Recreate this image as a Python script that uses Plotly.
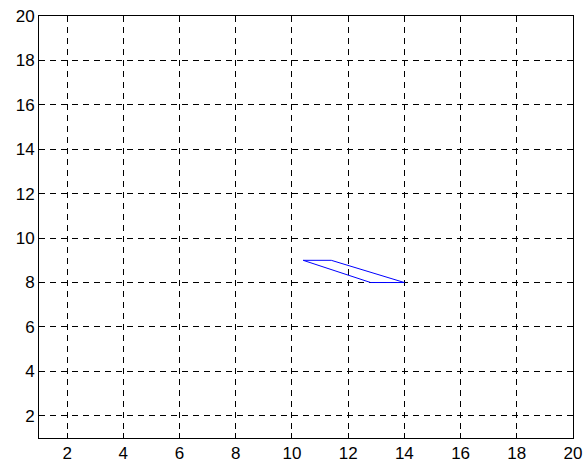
import plotly.graph_objects as go

shape_x = [10.4, 11.4, 14.0, 12.8, 10.4]
shape_y = [9.0, 9.0, 8.0, 8.0, 9.0]
x_ticks = [2, 4, 6, 8, 10, 12, 14, 16, 18, 20]
y_ticks = [2, 4, 6, 8, 10, 12, 14, 16, 18, 20]

fig = go.Figure()
fig.add_trace(go.Scatter(x=shape_x, y=shape_y, mode="lines",
                         line=dict(color="#0000ff", width=1), showlegend=False))

axis_common = dict(showline=True, linecolor="black", linewidth=1, mirror="ticks",
                   ticks="inside", ticklen=5, tickcolor="black",
                   showgrid=True, gridcolor="black", griddash="6px,5px", gridwidth=1,
                   zeroline=False, automargin=False, ticklabeloverflow="allow",
                   tickfont=dict(family="Liberation Sans", size=17, color="black"))

fig.update_xaxes(range=[1, 20], tickvals=x_ticks, ticktext=[str(v) for v in x_ticks], **axis_common)
fig.update_yaxes(range=[1, 20], tickvals=y_ticks, ticktext=[str(v) for v in y_ticks], **axis_common)

fig.update_layout(width=583, height=463, paper_bgcolor="white", plot_bgcolor="white",
                  margin=dict(l=39, r=10, t=16, b=25, autoexpand=False))
fig.write_html("out.html", config={"displayModeBar": False},
               post_script="document.body.style.margin='0';document.body.style.overflow='hidden';")
